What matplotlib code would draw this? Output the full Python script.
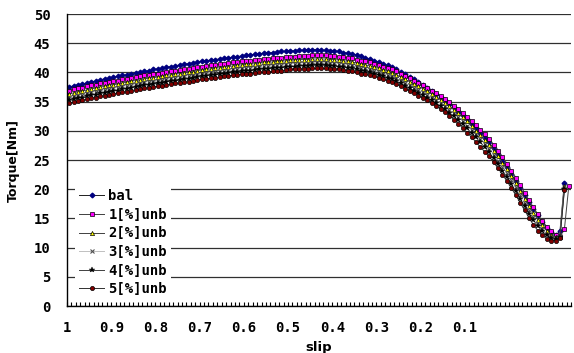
import numpy as np
import matplotlib
matplotlib.use('Agg')
import matplotlib.pyplot as plt

# slip axis labels (every 10th category, slip step 0.01)
slip_labels = ['1', '0.9', '0.8', '0.7', '0.6', '0.5', '0.4', '0.3', '0.2', '0.1']
n_cat = 114

bal = [37.5, 37.7, 37.9, 38.0, 38.2, 38.4, 38.5, 38.7, 38.9, 39.0,
       39.2, 39.3, 39.5, 39.6, 39.8, 39.9, 40.0, 40.2, 40.3, 40.5,
       40.6, 40.7, 40.9, 41.0, 41.1, 41.3, 41.4, 41.5, 41.6, 41.8,
       41.9, 42.0, 42.1, 42.2, 42.3, 42.4, 42.5, 42.6, 42.7, 42.8,
       42.9, 43.0, 43.1, 43.2, 43.3, 43.3, 43.4, 43.5, 43.6, 43.6,
       43.7, 43.7, 43.8, 43.8, 43.9, 43.9, 43.9, 43.8, 43.8, 43.7,
       43.7, 43.6, 43.4, 43.3, 43.1, 43.0, 42.8, 42.5, 42.3, 42.0,
       41.8, 41.5, 41.2, 40.9, 40.5, 40.1, 39.7, 39.2, 38.8, 38.3,
       37.8, 37.3, 36.8, 36.3, 35.8, 35.2, 34.6, 34.0, 33.3, 32.7,
       32.0, 31.2, 30.5, 29.7, 28.8, 28.0, 27.0, 26.0, 24.9, 23.8,
       22.6, 21.4, 20.2, 19.0, 17.8, 16.6, 15.5, 14.4, 13.4, 12.6,
       12.1, 12.8, 21.1]

unb1 = [36.9, 37.1, 37.3, 37.4, 37.6, 37.8, 37.9, 38.1, 38.2, 38.4,
        38.5, 38.6, 38.8, 38.9, 39.1, 39.2, 39.3, 39.5, 39.6, 39.7,
        39.8, 39.9, 40.1, 40.2, 40.3, 40.4, 40.5, 40.6, 40.7, 40.9,
        41.0, 41.1, 41.2, 41.3, 41.4, 41.5, 41.6, 41.7, 41.8, 41.9,
        42.0, 42.0, 42.1, 42.2, 42.3, 42.3, 42.4, 42.5, 42.5, 42.6,
        42.7, 42.7, 42.8, 42.8, 42.8, 42.9, 42.9, 42.9, 42.9, 42.8,
        42.8, 42.7, 42.6, 42.5, 42.4, 42.2, 42.0, 41.9, 41.7, 41.5,
        41.3, 41.0, 40.8, 40.5, 40.2, 39.8, 39.4, 39.0, 38.6, 38.2,
        37.8, 37.4, 36.9, 36.4, 35.9, 35.4, 34.9, 34.3, 33.7, 33.1,
        32.4, 31.7, 31.0, 30.2, 29.4, 28.6, 27.6, 26.6, 25.5, 24.4,
        23.2, 22.0, 20.7, 19.4, 18.1, 16.9, 15.7, 14.6, 13.6, 12.8,
        12.2, 11.9, 13.1, 20.5]

unb2 = [36.3, 36.5, 36.7, 36.8, 37.0, 37.2, 37.3, 37.5, 37.6, 37.8,
        37.9, 38.0, 38.2, 38.3, 38.5, 38.6, 38.7, 38.9, 39.0, 39.1,
        39.2, 39.3, 39.5, 39.6, 39.7, 39.8, 39.9, 40.0, 40.1, 40.3,
        40.4, 40.5, 40.6, 40.7, 40.8, 40.9, 41.0, 41.1, 41.2, 41.3,
        41.4, 41.4, 41.5, 41.6, 41.7, 41.7, 41.8, 41.9, 41.9, 42.0,
        42.1, 42.1, 42.2, 42.2, 42.2, 42.3, 42.3, 42.3, 42.3, 42.2,
        42.2, 42.1, 42.0, 41.9, 41.8, 41.6, 41.4, 41.3, 41.1, 40.9,
        40.7, 40.4, 40.2, 39.9, 39.6, 39.2, 38.8, 38.4, 38.0, 37.6,
        37.2, 36.8, 36.3, 35.8, 35.3, 34.8, 34.2, 33.6, 33.0, 32.3,
        31.6, 30.8, 30.0, 29.2, 28.4, 27.6, 26.6, 25.6, 24.5, 23.4,
        22.2, 21.0, 19.7, 18.4, 17.1, 15.9, 14.8, 13.8, 12.9, 12.2,
        11.8, 12.2, 20.6]

unb3 = [35.7, 35.9, 36.1, 36.2, 36.4, 36.6, 36.7, 36.9, 37.0, 37.2,
        37.3, 37.4, 37.6, 37.7, 37.9, 38.0, 38.1, 38.3, 38.4, 38.5,
        38.6, 38.7, 38.9, 39.0, 39.1, 39.2, 39.3, 39.4, 39.5, 39.7,
        39.8, 39.9, 40.0, 40.1, 40.2, 40.3, 40.4, 40.5, 40.6, 40.7,
        40.8, 40.8, 40.9, 41.0, 41.1, 41.1, 41.2, 41.3, 41.3, 41.4,
        41.5, 41.5, 41.6, 41.6, 41.6, 41.7, 41.7, 41.7, 41.7, 41.6,
        41.6, 41.5, 41.4, 41.3, 41.2, 41.0, 40.8, 40.7, 40.5, 40.3,
        40.1, 39.8, 39.6, 39.3, 39.0, 38.6, 38.2, 37.8, 37.4, 37.0,
        36.6, 36.2, 35.7, 35.2, 34.7, 34.2, 33.6, 33.0, 32.3, 31.7,
        30.9, 30.2, 29.4, 28.6, 27.7, 26.9, 25.9, 24.9, 23.8, 22.7,
        21.5, 20.3, 19.0, 17.7, 16.4, 15.2, 14.2, 13.2, 12.4, 11.9,
        11.6, 12.0, 20.3]

unb4 = [35.2, 35.4, 35.6, 35.7, 35.9, 36.1, 36.2, 36.4, 36.5, 36.7,
        36.8, 36.9, 37.1, 37.2, 37.4, 37.5, 37.6, 37.8, 37.9, 38.0,
        38.1, 38.2, 38.4, 38.5, 38.6, 38.7, 38.8, 38.9, 39.0, 39.2,
        39.3, 39.4, 39.5, 39.6, 39.7, 39.8, 39.9, 40.0, 40.1, 40.2,
        40.3, 40.3, 40.4, 40.5, 40.6, 40.6, 40.7, 40.8, 40.8, 40.9,
        41.0, 41.0, 41.1, 41.1, 41.1, 41.2, 41.2, 41.2, 41.2, 41.1,
        41.1, 41.0, 40.9, 40.8, 40.7, 40.5, 40.3, 40.2, 40.0, 39.8,
        39.6, 39.3, 39.1, 38.8, 38.5, 38.1, 37.7, 37.3, 36.9, 36.5,
        36.1, 35.7, 35.2, 34.7, 34.2, 33.7, 33.1, 32.5, 31.8, 31.2,
        30.4, 29.6, 28.9, 28.0, 27.2, 26.3, 25.3, 24.3, 23.2, 22.1,
        20.9, 19.7, 18.4, 17.1, 15.8, 14.7, 13.7, 12.8, 12.1, 11.6,
        11.4, 11.8, 20.0]

unb5 = [34.7, 34.9, 35.1, 35.2, 35.4, 35.6, 35.7, 35.9, 36.0, 36.2,
        36.3, 36.4, 36.6, 36.7, 36.9, 37.0, 37.1, 37.3, 37.4, 37.5,
        37.6, 37.7, 37.9, 38.0, 38.1, 38.2, 38.3, 38.4, 38.5, 38.7,
        38.8, 38.9, 39.0, 39.1, 39.2, 39.3, 39.4, 39.5, 39.6, 39.7,
        39.8, 39.8, 39.9, 40.0, 40.1, 40.1, 40.2, 40.3, 40.3, 40.4,
        40.5, 40.5, 40.6, 40.6, 40.6, 40.7, 40.7, 40.7, 40.7, 40.6,
        40.6, 40.5, 40.4, 40.3, 40.2, 40.0, 39.8, 39.7, 39.5, 39.3,
        39.1, 38.8, 38.6, 38.3, 38.0, 37.6, 37.2, 36.8, 36.4, 36.0,
        35.6, 35.2, 34.7, 34.2, 33.7, 33.2, 32.6, 31.9, 31.2, 30.5,
        29.7, 28.9, 28.1, 27.2, 26.4, 25.6, 24.6, 23.6, 22.5, 21.4,
        20.2, 19.0, 17.7, 16.4, 15.1, 13.9, 12.9, 12.1, 11.5, 11.2,
        11.2, 11.6, 19.8]

series = [
    ('bal', bal, dict(marker='D', ms=2.4, mfc='#000080', mec='#000080', color='#202020')),
    ('1[%]unb', unb1, dict(marker='s', ms=3.0, mfc='#ff00ff', mec='black', mew=0.5, color='#404040')),
    ('2[%]unb', unb2, dict(marker='^', ms=3.0, mfc='#ffff00', mec='black', mew=0.5, color='#404040')),
    ('3[%]unb', unb3, dict(marker='x', ms=3.0, mec='#505050', mew=0.8, color='#c0c0c0')),
    ('4[%]unb', unb4, dict(marker='*', ms=3.8, mfc='black', mec='black', mew=0.3, color='#404040')),
    ('5[%]unb', unb5, dict(marker='o', ms=3.0, mfc='#800000', mec='black', mew=0.5, color='#303030')),
]

plt.rcParams['font.family'] = 'DejaVu Sans Mono'
plt.rcParams['font.weight'] = 'bold'

fig = plt.figure(figsize=(5.74, 3.53), dpi=100)
ax = fig.add_axes([67/574, 1-306/353, 504/574, 292/353])

for name, vals, st in series:
    x = np.arange(len(vals)) + 0.5
    ax.plot(x, vals, lw=0.7, label=name, **st)

ax.set_xlim(0, n_cat)
ax.set_ylim(0, 50)
ax.set_yticks(np.arange(0, 51, 5))
ax.yaxis.grid(True, color='#303030', lw=0.9)
ax.set_axisbelow(True)

ax.set_xticks(np.arange(len(slip_labels)) * 10)
ax.set_xticklabels(slip_labels)
ax.set_xticks(np.arange(0, n_cat + 1), minor=True)
ax.tick_params(axis='x', which='both', direction='in', length=3, width=0.8, pad=11, labelsize=10)
ax.tick_params(axis='y', length=0, pad=12, labelsize=10)

ax.spines['right'].set_visible(False)
ax.spines['top'].set_visible(False)
ax.spines['left'].set_linewidth(1.0)
ax.spines['bottom'].set_linewidth(1.0)

ax.set_xlabel('slip', fontsize=9.5, family='DejaVu Sans', fontweight='bold', labelpad=4)
ax.set_ylabel('Torque[Nm]', fontsize=9, family='DejaVu Sans', fontweight='bold', labelpad=10)

leg = ax.legend(loc='upper left', bbox_to_anchor=(0.016, 0.414), fontsize=10,
                frameon=True, fancybox=False, edgecolor='none', facecolor='white',
                framealpha=1, labelspacing=0.33, handlelength=1.8, handletextpad=0.3,
                borderpad=0.3, borderaxespad=0)

fig.savefig('out.png', dpi=100)
